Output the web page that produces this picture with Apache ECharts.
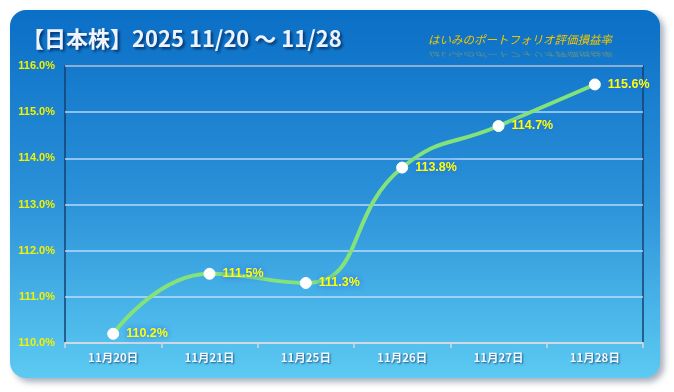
<!DOCTYPE html>
<html><head><meta charset="utf-8">
<script src="https://cdn.jsdelivr.net/npm/echarts@6/dist/echarts.min.js"></script>
<style>html,body{margin:0;padding:0;background:#fff;}#c{width:674px;height:392px;}</style>
</head><body><div id="c"></div>
<script>
const categories = ['11月20日','11月21日','11月25日','11月26日','11月27日','11月28日'];
const values = [110.2, 111.5, 111.3, 113.8, 114.7, 115.6];
const yTicks = [110, 111, 112, 113, 114, 115, 116];
const titleText = '【日本株】2025 11/20 ～ 11/28';
const subText = 'はいみのポートフォリオ評価損益率';

const chart = echarts.init(document.getElementById('c'));
chart.setOption({
  backgroundColor: '#fff',
  animation: false,
  graphic: [
    { type: 'rect', z: -10, shape: { x: 10, y: 10, width: 650, height: 368, r: 16 },
      style: { fill: new echarts.graphic.LinearGradient(0,0,0,1,[{offset:0,color:'#0a6fc6'},{offset:0.5,color:'#2a90d8'},{offset:1,color:'#5ccaf2'}]),
        shadowColor: 'rgba(60,80,110,0.45)', shadowBlur: 6, shadowOffsetX: 4, shadowOffsetY: 4 } },
    { type: 'text', left: 22, top: 28, z: 10,
      style: { text: titleText, fill: '#eef4ff', font: 'bold 22px "Noto Sans CJK JP", sans-serif',
        textShadowColor: 'rgba(0,30,80,0.8)', textShadowBlur: 3, textShadowOffsetX: 2, textShadowOffsetY: 2 } },
    { type: 'text', x: 428, y: 34, z: 10,
      style: { text: subText, fill: '#f5c400', font: 'italic 11.5px "Noto Sans CJK JP", sans-serif' } },
    { type: 'text', x: 428, y: 58, scaleY: -0.55, z: 9,
      style: { text: subText, fill: 'rgba(245,196,0,0.35)', font: 'italic 11.5px "Noto Sans CJK JP", sans-serif' } }
  ],
  grid: { left: 65, right: 31, top: 66, bottom: 49, show: true, borderColor: '#17406e', borderWidth: 1.5, backgroundColor: 'transparent' },
  xAxis: {
    type: 'category', data: categories, boundaryGap: true,
    axisLine: { lineStyle: { color: '#d0d8e0', width: 2 } },
    axisTick: { show: true, length: 5, lineStyle: { color: '#d0d8e0', width: 1.5 } },
    axisLabel: { color: '#f4f8ff', fontSize: 11.5, fontWeight: 'bold', margin: 9, fontFamily: '"Noto Sans CJK JP", sans-serif',
      textShadowColor: 'rgba(0,40,90,0.7)', textShadowBlur: 2, textShadowOffsetX: 1, textShadowOffsetY: 1 }
  },
  yAxis: {
    type: 'value', min: 110, max: 116, interval: 1,
    axisLine: { show: false }, axisTick: { show: false },
    splitLine: { lineStyle: { color: 'rgba(205,232,255,0.85)', width: 1.5 } },
    axisLabel: { color: '#f2f200', fontSize: 11, fontWeight: 'bold', margin: 10, fontFamily: 'Liberation Sans, Arial, sans-serif',
      formatter: v => yTicks.includes(v) ? v.toFixed(1) + '%' : '' }
  },
  series: [{
    type: 'line', data: values, smooth: 0.5,
    lineStyle: { color: '#84e27a', width: 4 },
    symbol: 'circle', symbolSize: 11,
    itemStyle: { color: '#ffffff', borderColor: '#ffffff' },
    label: { show: true, position: 'right', distance: 7, formatter: p => p.value.toFixed(1) + '%',
      color: '#ffff00', fontSize: 12.5, fontWeight: 'bold', fontFamily: 'Liberation Sans, Arial, sans-serif',
      textShadowColor: '#1a5cff', textShadowBlur: 6 }
  }]
});
</script></body></html>
